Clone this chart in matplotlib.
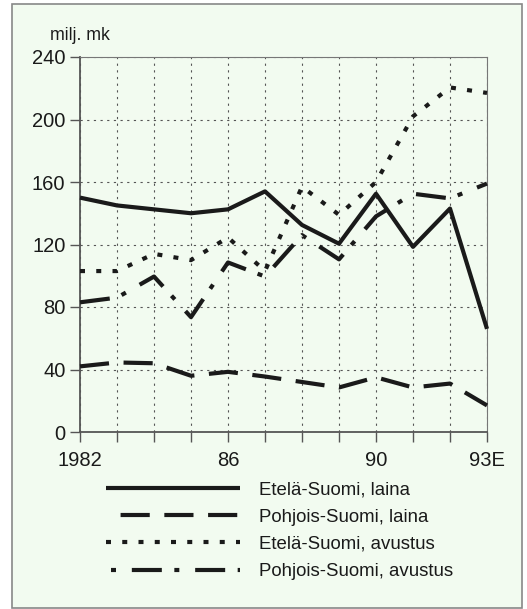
import matplotlib
matplotlib.use("Agg")
import matplotlib.pyplot as plt
from matplotlib.lines import Line2D
from matplotlib.patches import Rectangle

years = list(range(1982, 1994))
etela_laina = [150, 145, 142.5, 140, 142.5, 154, 132.5, 120.5, 152.5, 118.5, 143, 66]
pohjois_laina = [42, 44.5, 44, 36, 38.5, 35.5, 32, 28.5, 35, 28.5, 31, 17]
etela_avustus = [103, 103, 114, 110, 124.5, 103, 157, 139, 160, 202, 220.5, 217]
pohjois_avustus = [83, 86, 99.5, 73.5, 108.5, 99.5, 126, 110.5, 138, 152.5, 149.5, 159]
series_labels = ["Etelä-Suomi, laina", "Pohjois-Suomi, laina",
                 "Etelä-Suomi, avustus", "Pohjois-Suomi, avustus"]
yticks = [0, 40, 80, 120, 160, 200, 240]
xtick_pos = [1982, 1986, 1990, 1993]
xtick_labels = ["1982", "86", "90", "93E"]

plt.rcParams['font.family'] = ['Liberation Sans', 'DejaVu Sans']

W, H = 527, 609
fig = plt.figure(figsize=(W / 100, H / 100), dpi=100)
fig.patch.set_facecolor('white')
bg = '#f2fbf0'
fig.patches.append(Rectangle((12 / W, 1 - 608 / H), (522 - 12) / W, (608 - 4) / H,
                             transform=fig.transFigure, facecolor=bg,
                             edgecolor='#888888', linewidth=1.2, zorder=-10))

ax = fig.add_axes([80 / W, 1 - 432 / H, (487 - 80) / W, (432 - 57) / H])
ax.set_facecolor('none')
ax.set_zorder(5)

lw = 3.0
dash_patterns = [None, (7, 3.5), (1.2, 2.7), (7.2, 3.0, 1.2, 3.8)]
legend_offsets = [0, 7, 0, 9]


def style(i, offset):
    pat = dash_patterns[i]
    if pat is None:
        return dict(linestyle='-')
    return dict(linestyle=(offset, pat))


data = [etela_laina, pohjois_laina, etela_avustus, pohjois_avustus]
for i, vals in enumerate(data):
    ax.plot(years, vals, color='#1a1a1a', linewidth=lw, solid_capstyle='butt',
            dash_capstyle='butt', zorder=3, clip_on=False, **style(i, 0))

ax.set_xlim(1982, 1993)
ax.set_ylim(0, 240)
ax.set_yticks(yticks)
ax.set_yticklabels([str(v) for v in yticks])
ax.set_xticks(years)
ax.set_xticklabels(['' for _ in years])
for pos, lab in zip(xtick_pos, xtick_labels):
    ax.text(pos, -12, lab, ha='center', va='top', fontsize=14.5,
            transform=ax.transData, color='#1a1a1a')
ax.grid(True, color='#555555', linestyle=(0, (2, 4)), linewidth=0.8)
ax.tick_params(axis='both', direction='out', length=7, width=1.0,
               colors='#555555', labelcolor='#1a1a1a', labelsize=14.5)
for s in ['left', 'bottom']:
    ax.spines[s].set_color('#555555')
    ax.spines[s].set_linewidth(1.3)
for s in ['top', 'right']:
    ax.spines[s].set_color('#777777')
    ax.spines[s].set_linewidth(0.8)

fig.text(50 / W, 1 - 35 / H, "milj. mk", fontsize=12.8, ha='left', va='center',
         color='#1a1a1a')

handles = [Line2D([0], [0], color='#1a1a1a', linewidth=lw, solid_capstyle='butt',
                  dash_capstyle='butt', **style(i, legend_offsets[i]))
           for i in range(4)]
leg = fig.legend(handles, series_labels, loc='upper left',
                 bbox_to_anchor=(97 / W, 1 - 472 / H), frameon=False,
                 fontsize=13.4, handlelength=7.2, handletextpad=1.0,
                 labelspacing=0.55, borderpad=0)
for t in leg.get_texts():
    t.set_color('#1a1a1a')

fig.savefig('out.png', dpi=100, facecolor='white')
